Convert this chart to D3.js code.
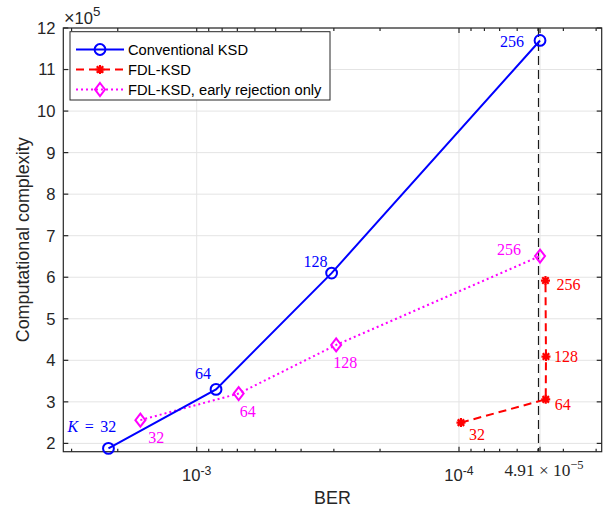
<!DOCTYPE html>
<html>
<head>
<meta charset="utf-8">
<script src="https://cdn.jsdelivr.net/npm/d3@7"></script>
<style>
  body { margin: 0; background: #fff; }
  svg { display: block; }
</style>
</head>
<body>
<div id="chart"></div>
<script>
// data (BER, complexity in units of 1e5)
let kLabels = ["32", "64", "128", "256"];

let convBer = [2.17e-3, 8.44e-4, 3.06e-4, 4.91e-5];
let convCx  = [1.88, 3.30, 6.10, 11.70];

let fdlBer = [9.83e-5, 4.67e-5, 4.66e-5, 4.68e-5];
let fdlCx  = [2.50, 3.06, 4.09, 5.92];

let earlyBer = [1.64e-3, 6.92e-4, 2.94e-4, 4.91e-5];
let earlyCx  = [2.56, 3.20, 4.37, 6.51];

let refBer = 4.91e-5;
let yTicks = [2, 3, 4, 5, 6, 7, 8, 9, 10, 11, 12];
let xMajor = [1e-3, 1e-4, 4.91e-5];

let svgW = 616, svgH = 508;
let plotL = 63.3, plotR = 601.7, plotT = 28, plotB = 451.7;

// reversed log axis: 1e-3 on the left
let xScale = d3.scaleLog().domain([3.226e-3, 2.857e-5]).range([plotL, plotR]);
let yScale = d3.scaleLinear().domain([1.8, 12]).range([plotB, plotT]);

let axisColor = "#262626";
let gridColor = "#e4e4e4";
let sans = "Liberation Sans, Arial, Helvetica, sans-serif";
let serif = "Liberation Serif, Times New Roman, serif";
let tickSize = 16.6, supSize = 12.3, legendSize = 14.7, titleSize = 17.9;

let svg = d3.select("#chart").append("svg")
  .attr("width", svgW)
  .attr("height", svgH);

// minor ticks 2..9 x 10^k inside the domain
let xMinor = [];
for (let e = -6; e <= -2; ++e) {
  for (let m = 2; m <= 9; ++m) {
    let v = m * Math.pow(10, e);
    if (v <= 3.226e-3 && v >= 2.857e-5) xMinor.push(v);
  }
}

////////////////////////////////////////////////////////////////////////
// grid

let grid = svg.append("g");
grid.selectAll("line.gy").data(yTicks).enter().append("line")
  .attr("x1", plotL).attr("x2", plotR)
  .attr("y1", d => yScale(d)).attr("y2", d => yScale(d))
  .attr("stroke", gridColor).attr("stroke-width", 1);
grid.selectAll("line.gx").data(xMajor).enter().append("line")
  .attr("x1", d => xScale(d)).attr("x2", d => xScale(d))
  .attr("y1", plotT).attr("y2", plotB)
  .attr("stroke", gridColor).attr("stroke-width", 1);

// vertical reference line
let refX = Math.round(xScale(refBer) - 2) + 0.5;
svg.append("line")
  .attr("x1", refX).attr("x2", refX)
  .attr("y1", plotT).attr("y2", plotB)
  .attr("stroke", "#1a1a1a").attr("stroke-width", 1.2)
  .attr("stroke-dasharray", "9,5");

////////////////////////////////////////////////////////////////////////
// axes box and ticks

let ax = svg.append("g").attr("stroke", axisColor).attr("stroke-width", 1.2);

ax.append("rect")
  .attr("x", plotL).attr("y", plotT)
  .attr("width", plotR - plotL).attr("height", plotB - plotT)
  .attr("fill", "none");

yTicks.forEach(function(t) {
  let y = yScale(t);
  ax.append("line").attr("x1", plotL).attr("x2", plotL + 5).attr("y1", y).attr("y2", y);
  ax.append("line").attr("x1", plotR).attr("x2", plotR - 5).attr("y1", y).attr("y2", y);
});
xMajor.forEach(function(t) {
  let x = xScale(t);
  ax.append("line").attr("x1", x).attr("x2", x).attr("y1", plotB).attr("y2", plotB - 5);
  ax.append("line").attr("x1", x).attr("x2", x).attr("y1", plotT).attr("y2", plotT + 5);
});
xMinor.forEach(function(t) {
  let x = xScale(t);
  ax.append("line").attr("x1", x).attr("x2", x).attr("y1", plotB).attr("y2", plotB - 3);
  ax.append("line").attr("x1", x).attr("x2", x).attr("y1", plotT).attr("y2", plotT + 3);
});

// y tick labels
svg.append("g").selectAll("text").data(yTicks).enter().append("text")
  .attr("x", 55.5).attr("y", d => yScale(d) + 5.9)
  .attr("text-anchor", "end")
  .attr("font-family", sans).attr("font-size", tickSize)
  .attr("fill", axisColor)
  .text(d => d);

// exponent label
let ex = svg.append("text")
  .attr("x", 64).attr("y", 23.5)
  .attr("font-family", sans).attr("font-size", tickSize)
  .attr("fill", axisColor);
ex.append("tspan").attr("font-size", 18).text("\u00d7");
ex.append("tspan").text("10");
ex.append("tspan").attr("dy", -7.5).attr("font-size", supSize + 1).text("5");

// x tick labels: powers of ten
[[1e-3, "-3"], [1e-4, "-4"]].forEach(function(p) {
  let t = svg.append("text")
    .attr("x", xScale(p[0])).attr("y", 481)
    .attr("text-anchor", "middle")
    .attr("font-family", sans).attr("font-size", tickSize)
    .attr("fill", axisColor);
  t.append("tspan").text("10");
  t.append("tspan").attr("dy", -6.5).attr("font-size", supSize).text(p[1]);
});

// custom tick in LaTeX style
let lt = svg.append("text")
  .attr("x", xScale(refBer) + 4).attr("y", 476)
  .attr("text-anchor", "middle")
  .attr("font-family", serif).attr("font-size", 17.3)
  .attr("fill", axisColor);
lt.append("tspan").text("4.91 \u00d7 10");
lt.append("tspan").attr("dy", -7).attr("font-size", 12.5).text("\u22125");

// axis titles
svg.append("text")
  .attr("x", (plotL + plotR) / 2).attr("y", 504)
  .attr("text-anchor", "middle")
  .attr("font-family", sans).attr("font-size", titleSize)
  .attr("fill", axisColor)
  .text("BER");

svg.append("text")
  .attr("transform", "translate(28.5," + ((plotT + plotB) / 2) + ") rotate(-90)")
  .attr("text-anchor", "middle")
  .attr("font-family", sans).attr("font-size", titleSize)
  .attr("fill", axisColor)
  .text("Computational complexity");

////////////////////////////////////////////////////////////////////////
// series

function zipPts(bers, cxs) {
  return bers.map((b, i) => ({ ber: b, cx: cxs[i], k: kLabels[i] }));
}

let conv = zipPts(convBer, convCx);
let fdl = zipPts(fdlBer, fdlCx);
let early = zipPts(earlyBer, earlyCx);

let line = d3.line().x(d => xScale(d.ber)).y(d => yScale(d.cx));

function drawCircle(g, x, y, color) {
  g.append("circle").attr("cx", x).attr("cy", y).attr("r", 5.4)
    .attr("fill", "none").attr("stroke", color).attr("stroke-width", 2);
}
function drawDiamond(g, x, y, color) {
  g.append("path")
    .attr("d", "M" + x + "," + (y - 6.5) + "L" + (x + 5) + "," + y +
               "L" + x + "," + (y + 6.5) + "L" + (x - 5) + "," + y + "Z")
    .attr("fill", "none").attr("stroke", color).attr("stroke-width", 2);
}
function drawStar(g, x, y, color) {
  let r = 4.5, q = r * 0.72;
  let p = "M" + (x - r) + "," + y + "L" + (x + r) + "," + y +
          "M" + x + "," + (y - r) + "L" + x + "," + (y + r) +
          "M" + (x - q) + "," + (y - q) + "L" + (x + q) + "," + (y + q) +
          "M" + (x - q) + "," + (y + q) + "L" + (x + q) + "," + (y - q);
  g.append("path").attr("d", p)
    .attr("stroke", color).attr("stroke-width", 2.2).attr("fill", "none");
}

let series = svg.append("g");

series.append("path").datum(fdl)
  .attr("d", line)
  .attr("fill", "none").attr("stroke", "#ff0000").attr("stroke-width", 2)
  .attr("stroke-dasharray", "8,5");
series.append("path").datum(early)
  .attr("d", line)
  .attr("fill", "none").attr("stroke", "#ff00ff").attr("stroke-width", 2)
  .attr("stroke-dasharray", "2,3");
series.append("path").datum(conv)
  .attr("d", line)
  .attr("fill", "none").attr("stroke", "#0000ff").attr("stroke-width", 2);

fdl.forEach(d => drawStar(series, xScale(d.ber), yScale(d.cx), "#ff0000"));
early.forEach(d => drawDiamond(series, xScale(d.ber), yScale(d.cx), "#ff00ff"));
conv.forEach(d => drawCircle(series, xScale(d.ber), yScale(d.cx), "#0000ff"));

// point labels: offsets from each point
let convOff  = [[-40, -16], [-21, -10], [-28, -6], [-40, 7]];
let earlyOff = [[8, 23], [1, 23], [-3, 23], [-43, -1]];
let fdlOff   = [[8, 17], [9, 11], [8, 5], [11, 9]];

function labels(pts, offs, color) {
  svg.append("g").selectAll("text").data(pts).enter().append("text")
    .attr("x", (d, i) => xScale(d.ber) + offs[i][0])
    .attr("y", (d, i) => yScale(d.cx) + offs[i][1])
    .attr("font-family", serif).attr("font-size", 16)
    .attr("fill", color)
    .each(function(d, i) {
      let t = d3.select(this);
      if (color === "#0000ff" && i === 0) {
        // math-style spacing around the equals sign
        t.attr("x", xScale(d.ber) - 41);
        t.append("tspan").attr("font-style", "italic").text("K");
        t.append("tspan").attr("dx", 6.5).text("=");
        t.append("tspan").attr("dx", 6.5).text(d.k);
      } else {
        t.text(d.k);
      }
    });
}
labels(conv, convOff, "#0000ff");
labels(early, earlyOff, "#ff00ff");
labels(fdl, fdlOff, "#ff0000");

////////////////////////////////////////////////////////////////////////
// legend

let legendNames = ["Conventional KSD", "FDL-KSD", "FDL-KSD, early rejection only"];
let legendColors = ["#0000ff", "#ff0000", "#ff00ff"];
let legendDash = [null, "8,5", "2,3"];
let legendMark = [drawCircle, drawStar, drawDiamond];

let lg = svg.append("g");
lg.append("rect")
  .attr("x", 70).attr("y", 31.7).attr("width", 260).attr("height", 68.3)
  .attr("fill", "#fff").attr("stroke", axisColor).attr("stroke-width", 1);

legendNames.forEach(function(name, i) {
  let y = 49.5 + i * 20;
  lg.append("line")
    .attr("x1", 76).attr("x2", 124).attr("y1", y).attr("y2", y)
    .attr("stroke", legendColors[i]).attr("stroke-width", 2)
    .attr("stroke-dasharray", legendDash[i]);
  legendMark[i](lg, 100, y, legendColors[i]);
  lg.append("text")
    .attr("x", 128).attr("y", y + 5.2)
    .attr("font-family", sans).attr("font-size", legendSize)
    .attr("fill", "#000")
    .text(name);
});
</script>
</body>
</html>
